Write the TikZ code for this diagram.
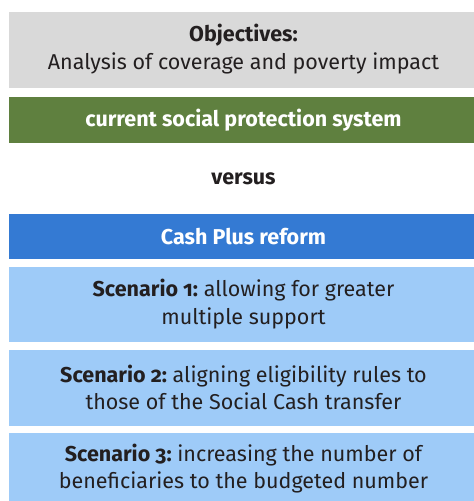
\documentclass[tikz,border=0pt]{standalone}
\usepackage{fontspec}
\setmainfont{Fira Sans}[Numbers=OldStyle]
\frenchspacing
\definecolor{boxgray}{HTML}{D9D9D9}
\definecolor{boxgreen}{HTML}{5F803F}
\definecolor{boxblue}{HTML}{347AD3}
\definecolor{boxlight}{HTML}{9ECBF8}
\definecolor{txtdark}{HTML}{231F20}
\begin{document}
\begin{tikzpicture}[x=1pt,y=1pt,
  lbl/.style={align=center, font=\fontsize{21.5}{27.5}\selectfont, text=txtdark},
  wlbl/.style={align=center, font=\fontsize{21.5}{27.5}\selectfont\bfseries, text=white}]
\useasboundingbox (0,0) rectangle (474,-501);
\fill[boxgray] (9,-12) rectangle (474,-88);
\node[lbl] (obj) at (243.5,-49) {\textbf{Objectives:}\\Analysis of coverage and poverty impact};
\fill[boxgreen] (9,-97) rectangle (474,-143);
\node[wlbl] (cur) at (243.5,-120) {current social protection system};
\node[lbl,font=\fontsize{21.5}{27.5}\selectfont\bfseries] (vs) at (243.5,-179) {versus};
\fill[boxblue] (9,-214) rectangle (474,-259);
\node[wlbl] (cash) at (243.5,-236.5) {Cash Plus reform};
\fill[boxlight] (9,-267) rectangle (474,-342);
\node[lbl] (s1) at (243.5,-304) {\textbf{Scenario 1:} allowing for greater\\multiple support};
\fill[boxlight] (9,-350) rectangle (474,-426);
\node[lbl] (s2) at (243.5,-387.5) {\textbf{Scenario 2:} aligning eligibility rules to\\those of the Social Cash transfer};
\fill[boxlight] (9,-433) rectangle (474,-510);
\node[lbl] (s3) at (243.5,-468.5) {\textbf{Scenario 3:} increasing the number of\\beneficiaries to the budgeted number};
\end{tikzpicture}
\end{document}
